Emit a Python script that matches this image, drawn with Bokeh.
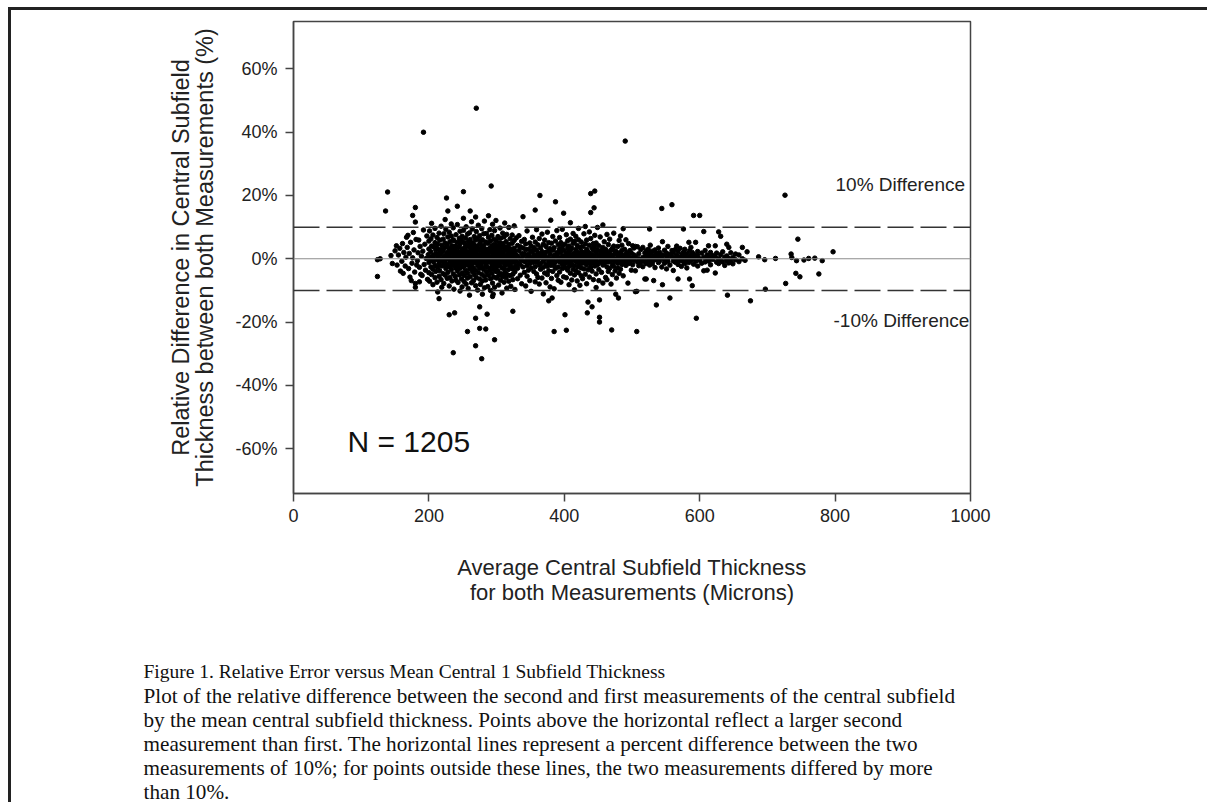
from bokeh.plotting import figure
from bokeh.models import Span, Label, FixedTicker, Range1d
from bokeh.core.properties import value
from bokeh.layouts import column
from bokeh.embed import file_html
from bokeh.resources import INLINE

# ---------------- data ----------------
x_ticks = [0, 200, 400, 600, 800, 1000]
y_ticks = [-60, -40, -20, 0, 20, 40, 60]
y_tick_labels = ["-60%", "-40%", "-20%", "0%", "20%", "40%", "60%"]
limit_pct = 10
n_label = "N = 1205"
x_title = "Average Central Subfield Thickness\nfor both Measurements (Microns)"
y_title = "Relative Difference in Central Subfield\nThickness between both Measurements (%)"

# (thickness, [relative differences in %]) columns
left_cols = [(124, [-0.3, -5.6]), (128, [0.0]), (136, [15.1]), (139, [21.1]), (144, [1.0]), (146, [-1.5]),
             (150, [2.5]), (152, [4.1]), (153, [-2.0]), (155, [1.2]), (157, [3.3]), (158, [-3.9]), (160, [-0.8]),
             (161, [4.8]), (162, [-4.6]), (163, [2.0]), (165, [-2.3]), (166, [0.5]), (167, [6.8]), (168, [3.6]),
             (169, [7.4]), (170, [-3.1]), (171, [1.7]), (172, [-5.8]), (173, [5.2]), (174, [-6.9]), (175, [-1.4]),
             (176, [0.3, 13.7]), (177, [8.3]), (178, [2.8]), (179, [-4.2]), (180, [11.6, -7.8, -9.0, 16.2]),
             (181, [6.1]), (182, [-2.0]), (183, [-0.6]), (184, [1.9]), (185, [5.9]), (186, [-2.7, -7.3]),
             (187, [3.9]), (188, [-4.9]), (189, [0.8]), (190, [-5.3]), (191, [2.4]), (192, [9.1, 40.0]),
             (193, [-1.8]), (194, [4.6]), (195, [-3.6]), (196, [0.1]), (197, [7.2]), (198, [-6.5]), (199, [1.3])]

core_cols = [(200, [3.1, -1.2, 5.6, -4.4]), (201, [0.4, -7.1, 8.8]), (203, [2.2, -2.6, 6.3, -0.5]),
             (204, [-5.0, 4.0, 11.2]), (206, [1.0, -3.3, 7.5, -8.2]), (207, [3.8, -1.0, 0.2]),
             (209, [-2.1, 5.1, -6.0, 9.6]), (210, [1.6, -4.0, 2.9]), (212, [-0.3, 6.7, -7.4, 3.4]),
             (213, [0.9, -2.8, 4.7, -10.5]), (215, [2.6, -1.6, 8.1, -5.5, -12.6]), (216, [-0.8, 5.9, -3.8, 1.4]),
             (218, [3.0, -6.6, 0.0, 10.3]), (219, [-2.3, 4.3, 1.9, -9.0]), (221, [6.2, -0.9, -4.7, 2.5]),
             (222, [0.6, -2.0, 7.9, -7.8]), (224, [3.6, -1.3, 5.0, -5.2, 12.4]), (225, [-3.1, 1.1, 9.3, -0.2]),
             (226, [19.2]), (227, [2.0, -6.2, 4.5, -1.8]), (228, [-4.3, 0.7, 6.9, 15.1]),
             (230, [1.5, -2.5, 3.3, -8.6, 8.4, -17.7]), (231, [-0.6, 5.4, -5.9, 2.7]),
             (233, [0.3, -3.5, 7.2, -1.1, 11.0]), (234, [4.1, -7.0, 1.8, -2.2]),
             (236, [-0.4, 3.0, -4.8, 9.8, 6.0, -29.7]), (237, [1.2, -1.9, 5.7, -9.6]),
             (238, [-17.1]), (239, [2.4, -5.6, 0.0, 4.0, -2.9]), (240, [-1.5, 7.6, 1.0, -6.8]),
             (242, [3.5, -0.7, -3.9, 10.8, 5.2, 16.6]), (243, [0.8, -2.4, 2.1, -7.5]),
             (245, [-1.0, 6.4, -5.1, 1.6, 3.9]), (246, [4.8, -3.0, 0.4, -10.2, 8.7]),
             (248, [-0.2, 2.9, -6.4, 5.8, -1.7]), (249, [1.9, -4.5, 7.1, -8.9, 0.6]),
             (251, [3.2, -0.9, -2.6, 9.0, 12.8, 21.2]), (252, [0.0, 5.1, -5.3, 1.4, -7.2]),
             (254, [-1.4, 2.6, 6.6, -3.7, 4.2]), (255, [1.1, -8.0, 0.3, -2.0, 10.1]),
             (257, [3.8, -0.5, -4.6, 7.8, -6.1, -23.0]), (258, [-1.8, 2.0, 5.5, -9.4, 0.9]),
             (260, [0.2, -3.2, 4.4, -0.9, 8.2, -11.5]), (261, [2.7, -5.7, 1.3, 6.1, -2.4, 15.1]),
             (263, [-0.3, 3.6, -7.6, 0.7, 11.7]), (264, [5.0, -1.6, -4.1, 2.3, 9.4]),
             (266, [1.8, -0.1, -6.9, 4.6, -2.9]), (267, [-1.2, 7.0, 3.1, -5.0, 0.5]),
             (269, [0.0, -3.6, 5.9, -8.5, 2.2, 13.2, -18.8, -27.5]), (270, [1.5, -1.0, 8.6, -5.9, 4.0, 47.6]),
             (272, [-2.1, 3.3, -0.4, 6.4, -9.9]), (273, [0.9, -4.4, 2.5, -1.5, 10.6]),
             (275, [4.7, -0.8, -6.4, 1.2, -3.0, 7.3, -15.2, -22.0]), (276, [-1.9, 2.8, 0.2, -8.1, 5.4]),
             (278, [3.7, -2.7, 1.0, 9.5, -4.9, -31.6]), (279, [-0.6, 6.0, -7.0, 2.0, -11.2]),
             (281, [1.4, -3.4, 4.3, -1.2, 7.9]), (282, [0.3, -5.5, 2.9, -9.2, 11.9]),
             (284, [-0.9, 5.3, -2.2, 1.7, -6.7, -22.2]), (285, [3.0, -1.4, 8.0, -4.2, 0.6]),
             (286, [-17.5]), (287, [-2.8, 1.9, 4.9, -0.3, -8.8]), (288, [0.8, -5.2, 6.8, 2.6, 13.6]),
             (290, [-1.1, 3.4, -3.7, 0.1, 9.2]), (291, [2.1, -6.3, 5.6, -0.7, -10.0]),
             (292, [23.0]), (293, [0.5, -2.5, 4.1, -4.6, 7.4]), (294, [-1.6, 1.3, 3.0, -7.7, 10.9, -11.9]),
             (295, [-11.2]), (296, [2.4, -0.4, -3.3, 6.2, -5.8]), (297, [0.0, 4.6, -1.9, 8.9, -9.0, -25.6]),
             (299, [1.7, -4.0, 3.5, -0.9, 12.1]), (300, [-2.6, 0.6, 5.7, -6.1, 2.3]),
             (302, [1.0, -1.3, 7.0, -3.9, 4.3]), (303, [-0.5, 3.2, -5.4, 0.9, -8.3]),
             (305, [2.8, -2.2, 5.0, -0.2, 9.7]), (306, [0.4, -4.7, 1.6, 6.5, -6.8]),
             (308, [-1.0, 3.9, -2.9, 0.8, -10.8]), (309, [1.9, -0.6, 4.8, -5.6, 8.1]),
             (311, [0.2, -3.1, 2.7, 6.9, -7.4]), (312, [-1.7, 1.1, 3.8, -4.4, 11.3]),
             (314, [0.7, -2.0, 5.4, -0.8, -6.0]), (315, [2.5, -5.0, 0.0, 7.7, -9.3]),
             (317, [-1.3, 3.6, 1.4, -3.5]), (318, [0.9, -7.1, 4.5, -0.4, 9.9]),
             (320, [-2.4, 2.2, 6.3, -5.3, 0.3]), (321, [1.5, -1.6, 3.1, -8.7]),
             (323, [0.0, 4.9, -3.2, 7.5, -0.9]), (324, [-4.9, 2.0, 1.0, -6.6, -16.6]),
             (326, [3.3, -1.1, 5.8, -2.7, 10.4]), (327, [0.5, -4.1, 2.4, -9.7]), (329, [-0.7, 6.6, -2.3, 1.2])]

mid_cols = [(331, [0.8, -3.0, 4.2, -6.3]), (333, [-1.4, 2.6, 7.3]), (335, [0.1, -5.2, 3.8, -1.9]),
            (337, [5.5, -0.5, -7.9, 1.7]), (339, [-2.6, 13.3, 0.9, 3.4]), (341, [1.6, -4.3, 6.1, -0.8]),
            (343, [-1.0, 2.9, -8.6, 4.7]), (345, [0.4, -2.2, 8.8, -5.5]), (347, [3.0, -0.3, -3.6, 1.4]),
            (349, [-1.5, 5.0, -6.9, 0.6]), (351, [2.2, -2.9, 4.0, -10.3]), (353, [0.0, -1.2, 6.8, 2.5]),
            (355, [-4.0, 1.3, 3.6, -0.6]), (357, [0.7, -7.3, 5.3, -2.5, 15.4]), (359, [-1.1, 2.8, 9.2, -4.8]),
            (361, [1.9, -0.2, -5.9, 4.4]), (363, [-2.0, 0.9, 6.4, -8.0]), (364, [20.0]),
            (365, [3.5, -1.4, -3.3, 1.1]), (367, [0.3, -6.1, 2.3, 7.8]), (369, [-0.9, 4.6, -2.7, -11.1]),
            (371, [1.2, -4.5, 5.9, 0.0]), (373, [-1.7, 2.1, -7.6, 3.9]), (375, [0.5, -2.4, 8.4, -5.0]),
            (377, [2.6, -0.7, -3.8, 5.1, -13.3]), (379, [-1.3, 1.5, -8.9, 3.2]), (380, [12.2]),
            (381, [0.2, 4.9, -2.1, -6.2]), (382, [-12.4]), (383, [-0.5, 2.7, 7.0, -4.0]),
            (385, [1.0, -1.8, 3.5, -9.5, -23.0]), (387, [-3.0, 0.6, 5.6, -0.9, 18.0]), (389, [2.0, -5.3, 1.3, 8.9])]

right_cols = [(391, [0.4, -2.6, 4.4, -6.8, 1.8]), (393, [-1.0, 3.1, -4.2, 6.7, 0.0]), (395, [2.3, -0.6, -7.4, 5.1]),
              (397, [-1.7, 1.0, 3.8, -3.1, 9.3]), (399, [0.7, -5.7, 2.6, -0.3, 14.4]),
              (401, [4.6, -1.5, -2.8, 0.2, -17.7]), (403, [-0.8, 2.0, 7.6, -6.0, 1.1, -22.6]),
              (405, [3.3, -3.6, 0.5, -1.2, 5.7]), (407, [-0.1, 1.6, -8.2, 4.0, -2.4]),
              (409, [2.7, -0.9, 6.2, -4.6, 11.4]), (411, [0.0, -1.9, 3.4, -6.7, 1.3]),
              (413, [-3.3, 4.9, 0.8, -0.5, 8.0]), (415, [1.8, -2.2, 5.5, -5.1, -9.8]),
              (417, [-0.7, 2.9, 0.3, -3.7, 7.1]), (419, [1.1, -1.1, 4.2, -7.0, 2.1]),
              (421, [-2.5, 0.6, 6.0, -4.4, 9.6]), (423, [3.6, -0.2, -1.6, 1.5, -8.4]),
              (425, [0.2, -5.4, 2.4, 5.3, -2.9]), (427, [-1.4, 3.9, -0.4, -6.3, 1.0]),
              (429, [2.0, -3.2, 7.9, -1.0, 0.4]), (431, [-0.6, 1.4, -4.9, 4.7, 10.2]),
              (433, [0.9, -2.0, 3.0, -7.9, 5.9]), (434, [-17.1]), (435, [-1.2, 2.2, -3.5, 0.0, -13.7]),
              (437, [4.3, -0.8, 1.7, -5.8, 8.5]), (439, [0.5, -2.7, 6.4, -1.5, 14.6, 20.6]),
              (441, [-3.9, 1.2, 3.3, -0.2, -15.2]), (443, [2.5, -1.3, -6.6, 4.8, 0.7]),
              (444, [16.1]), (445, [-0.5, 3.7, -2.3, 7.4, 21.4]), (447, [1.6, -4.8, 0.1, -9.1, 5.0]),
              (449, [-1.9, 2.8, -0.9, 9.9]), (451, [0.8, -3.4, 4.1, -6.9]), (452, [-18.5, -13.0, -20.0]),
              (453, [-1.1, 1.9, 6.9]), (455, [2.6, -0.4, -4.3, 0.3]), (457, [-2.0, 3.6, -7.7, 1.4, 10.7]),
              (459, [0.0, -1.6, 5.4, 2.0]), (461, [-5.9, 1.0, 3.0, -0.8]), (463, [-6.6, 2.3, -2.6, 7.7]),
              (465, [0.5, -1.0, 4.5, -4.0]), (467, [1.5, -3.0, 6.2, -0.3]), (469, [-0.6, 2.7, -8.0, 0.9]),
              (470, [-22.5]), (471, [3.3, -1.8, 1.1, -5.0]), (473, [0.2, -2.4, 8.1, 4.0]),
              (475, [-0.9, 1.7, -3.8, 2.5]), (476, [-11.2]), (477, [2.2, -0.5, -6.1, 0.0]),
              (479, [-1.4, 3.9, 1.3, -2.9]), (480, [-12.4]), (481, [0.6, -4.6, 5.8]),
              (483, [-3.3, 1.9, -0.7, 7.2]), (485, [0.0, 2.6, -1.8, 4.3]), (487, [9.5, -0.6, 1.0, -5.4]),
              (489, [-1.2, 3.0, 0.4]), (490, [37.2]), (491, [1.5, -2.1, 6.0]), (493, [-0.3, 2.0]),
              (494, [-7.7]), (495, [0.9, -1.5, 4.8]), (497, [-0.8, 2.6, 0.2]), (499, [1.8, -0.4, -3.6]),
              (501, [0.3, 4.1, -1.9]), (503, [-0.5, 1.2, 3.4]), (505, [0.6, -3.8, 3.9, -10.4]),
              (507, [-10.3, -23.0]), (508, [3.8, -1.0]), (510, [0.0, -2.2, 1.6]), (513, [-1.2, 2.9, -0.6]),
              (516, [3.6, 0.4, -2.5]), (519, [-0.9, 1.8, -6.4])]

far_cols = [(521, [-6.4, 0.7, 2.5, -1.5]), (524, [1.4, -0.3, 3.0]), (526, [9.4, -2.0, 0.9]),
            (527, [4.3, -0.8, 1.9]), (530, [0.0, -1.6, 2.4]), (532, [-6.9, 1.0, -0.5]),
            (534, [0.3, 2.8, -2.8]), (536, [-14.6, 1.7, -0.2]), (539, [0.8, -1.2, 3.4]), (541, [-0.6, 2.0]),
            (544, [15.9, 0.5, -2.6]), (545, [5.4, -8.2, 1.2]), (548, [-0.4, 2.7, -1.4]),
            (551, [0.9, -3.2, 1.8]), (553, [0.0, 3.9, -0.9]), (556, [-12.4, 1.4, -2.0]),
            (559, [17.1, 0.6, 2.6]), (561, [-0.7, 1.9, -3.7]), (564, [2.9, -1.1, 0.3]),
            (566, [1.0, -0.4, 4.0]), (568, [-6.4, 2.2, -1.8]), (571, [0.4, 3.3, -0.6]),
            (573, [-2.4, 1.3, 0.0]), (576, [9.4, 2.0, -0.9]), (578, [0.7, -1.5, 3.0]),
            (581, [1.6, -0.2, -2.9]), (584, [5.2, 0.4, -1.2]), (585, [-6.4, 2.5]), (587, [-0.5, 1.1, 3.6]),
            (589, [-8.5, 0.0, 2.0]), (591, [13.7, 1.4, -1.7]), (594, [5.2, -0.8, 0.6]),
            (595, [-18.8]), (597, [2.3, -2.3, 1.0]), (600, [13.7, 0.0, -0.5]), (603, [1.8, -1.4]),
            (606, [8.6, -3.8, 0.5]), (608, [2.6, -1.0]), (611, [-3.6, 1.2, 0.2]), (613, [4.1, -0.7]),
            (616, [2.0, -1.9, 0.4]), (619, [1.0, -0.2]), (623, [4.1, -4.5, 0.6]), (625, [-1.1, 1.8]),
            (628, [8.5, 0.0, -1.5]), (631, [7.1, 1.3, -0.4]), (634, [2.2, -1.0]), (637, [0.5, -2.1]),
            (640, [4.6, 0.9, -0.6]), (641, [-11.5]), (643, [3.6, -1.3, 0.1]), (646, [1.9, -0.8]),
            (649, [0.4, -1.6]), (653, [1.5, -0.3]), (658, [1.2, -0.9]), (663, [3.6, 0.0]), (667, [-0.5]),
            (670, [2.2]), (675, [-13.3]), (687, [0.6]), (696, [-0.3]), (697, [-9.6]), (712, [0.1]),
            (726, [20.1]), (727, [-7.8]), (735, [1.5]), (736, [0.4]), (742, [-4.6]), (743, [-0.6]),
            (745, [6.2]), (748, [-5.7]), (754, [-0.4]), (761, [0.1]), (770, [0.2]), (776, [-4.8]),
            (781, [-0.6]), (797, [2.2])]

caption_head = "Figure 1. Relative Error versus Mean Central 1 Subfield Thickness"
caption_body = [
    "Plot of the relative difference between the second and first measurements of the central subfield",
    "by the mean central subfield thickness. Points above the horizontal reflect a larger second",
    "measurement than first. The horizontal lines represent a percent difference between the two",
    "measurements of 10%; for points outside these lines, the two measurements differed by more",
    "than 10%.",
]

# ---------------- build ----------------
xs, ys = [], []
for cols in (left_cols, core_cols, mid_cols, right_cols, far_cols):
    for xv, yl in cols:
        for yv in yl:
            xs.append(xv)
            ys.append(yv)

XMIN, XMAX = 0, 1000
YMIN, YMAX = -74.2, 75.0
OX, OY = 11, 10                      # where the figures start on the page
FL, FR, FT, FB = 293, 970, 21, 493   # frame in page px
W, H = 1196, 640                     # chart figure
H2 = 152                             # caption figure


def dx(px):
    return XMIN + (px - FL) / (FR - FL) * (XMAX - XMIN)


def dy(py):
    return YMAX - (py - FT) / (FB - FT) * (YMAX - YMIN)


p = figure(width=W, height=H, x_range=(XMIN, XMAX), y_range=(YMIN, YMAX),
           output_backend="svg", toolbar_location=None,
           min_border_left=FL - OX, min_border_right=OX + W - FR,
           min_border_top=FT - OY, min_border_bottom=OY + H - FB)
p.frame_align = False

p.xgrid.visible = False
p.ygrid.visible = False
p.outline_line_color = "#444444"
p.outline_line_width = 1.5
p.background_fill_color = "white"
p.border_fill_color = "white"

SANS = "Liberation Sans"
SERIF = "Liberation Serif"

for ax in (p.xaxis[0], p.yaxis[0]):
    ax.axis_line_color = "#444444"
    ax.axis_line_width = 1.5
    ax.major_tick_line_color = "#444444"
    ax.major_tick_line_width = 1.5
    ax.major_tick_out = 8
    ax.major_tick_in = 0
    ax.minor_tick_line_color = None
    ax.major_label_text_font = SANS
    ax.major_label_text_font_size = "18px"
    ax.major_label_text_color = "#222222"
    ax.axis_label_text_font = SANS
    ax.axis_label_text_font_style = "normal"
    ax.axis_label_text_color = "#222222"

p.xaxis.ticker = FixedTicker(ticks=x_ticks)
p.yaxis.ticker = FixedTicker(ticks=y_ticks)
p.yaxis.major_label_overrides = {t: l for t, l in zip(y_ticks, y_tick_labels)}
p.xaxis.major_label_standoff = 7
p.yaxis.major_label_standoff = 8
p.xaxis.axis_label = x_title
p.yaxis.axis_label = y_title
p.xaxis.axis_label_text_font_size = "22px"
p.yaxis.axis_label_text_font_size = "23.5px"
p.xaxis.axis_label_standoff = 30
p.yaxis.axis_label_standoff = 14
p.xaxis.axis_label_text_line_height = 1.02
p.yaxis.axis_label_text_line_height = 0.95

p.add_layout(Span(location=0, dimension="width", line_color="#8c8c8c", line_width=1))
for lv in (limit_pct, -limit_pct):
    p.add_layout(Span(location=lv, dimension="width", line_color="#333333", line_width=1.5,
                      line_dash="26 7"))

p.scatter(xs, ys, marker="circle", size=4.5, color="black")

# in-plot annotations
p.add_layout(Label(x=dx(347), y=dy(441), text=n_label, text_font=SANS, text_font_size="30px",
                   text_color="#111111", text_align="left", text_baseline="middle"))
p.add_layout(Label(x=dx(835), y=dy(184), text="10% Difference", text_font=SANS, text_font_size="19px",
                   text_color="#222222", text_align="left", text_baseline="middle"))
p.add_layout(Label(x=dx(833), y=dy(320), text="-10% Difference", text_font=SANS, text_font_size="19px",
                   text_color="#222222", text_align="left", text_baseline="middle"))

# caption panel (pixel coordinates of this panel)
cap = figure(width=W, height=H2, x_range=Range1d(0, W), y_range=Range1d(H2, 0),
             output_backend="svg", toolbar_location=None, x_axis_type=None, y_axis_type=None,
             min_border=0, outline_line_color=None)
cap.frame_align = False
cap.xgrid.visible = False
cap.ygrid.visible = False
cap_top = OY + H
cap_left = 143 - OX
cap.text(x=[cap_left], y=[671 - cap_top], text=[caption_head], text_font=value(SERIF),
         text_font_size="19.5px", text_color="#111111", text_align="left", text_baseline="middle")
cap.text(x=[cap_left] * len(caption_body), y=[695 + 24 * i - cap_top for i in range(len(caption_body))],
         text=caption_body, text_font=value(SERIF), text_font_size="21.2px", text_color="#111111",
         text_align="left", text_baseline="middle")

page = column(p, cap, spacing=0, margin=(7, 0, 0, 8),
              styles={"border-left": "3px solid #222222", "border-top": "3px solid #222222"})

open("out.html", "w").write(file_html(page, INLINE))
